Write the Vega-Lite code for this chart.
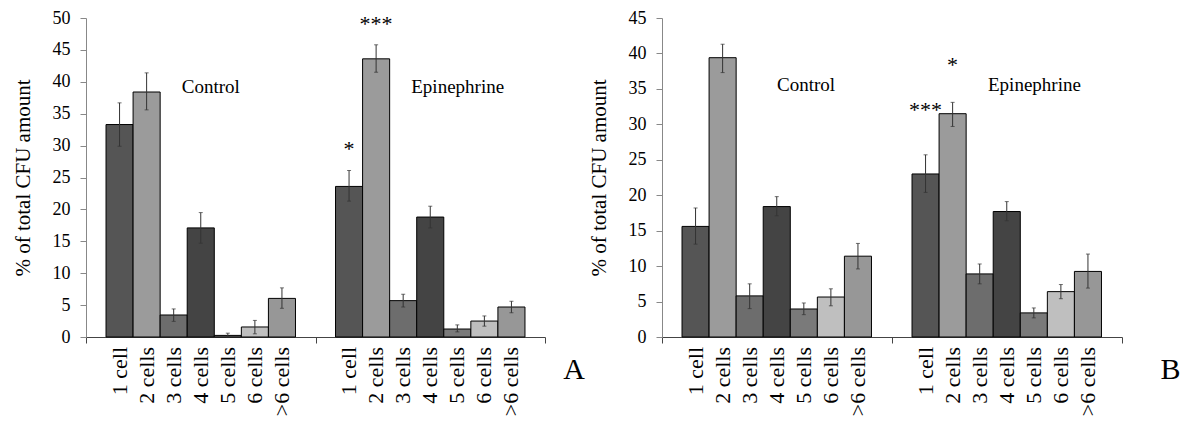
{
  "$schema": "https://vega.github.io/schema/vega-lite/v6.json",
  "padding": {"left": 12, "top": 9, "right": 0, "bottom": 0},
  "spacing": 3,
  "config": {
    "view": {"stroke": null},
    "font": "Liberation Serif",
    "axis": {"labelFont": "Liberation Serif", "titleFont": "Liberation Serif", "labelColor": "#000", "titleColor": "#000", "grid": false, "titleFontWeight": "normal", "labelOverlap": false},
    "axisY": {"tickSize": 6, "labelPadding": 10, "titlePadding": 19, "domainColor": "#888", "tickColor": "#888", "labelFontSize": 18, "titleFontSize": 21},
    "title": {"font": "Liberation Serif", "fontWeight": "normal", "color": "#000"}
  },
  "datasets": {
    "A": [
      {"group": "Control", "cell": "1 cell", "value": 33.3, "lo": 29.9, "hi": 36.7, "sig": ""},
      {"group": "Control", "cell": "2 cells", "value": 38.4, "lo": 35.6, "hi": 41.4, "sig": ""},
      {"group": "Control", "cell": "3 cells", "value": 3.45, "lo": 2.45, "hi": 4.4, "sig": ""},
      {"group": "Control", "cell": "4 cells", "value": 17.1, "lo": 14.7, "hi": 19.5, "sig": ""},
      {"group": "Control", "cell": "5 cells", "value": 0.25, "lo": 0.0, "hi": 0.6, "sig": ""},
      {"group": "Control", "cell": "6 cells", "value": 1.57, "lo": 0.5, "hi": 2.6, "sig": ""},
      {"group": "Control", "cell": ">6 cells", "value": 6.05, "lo": 4.5, "hi": 7.7, "sig": ""},
      {"group": "Epinephrine", "cell": "1 cell", "value": 23.6, "lo": 21.3, "hi": 26.1, "sig": "*"},
      {"group": "Epinephrine", "cell": "2 cells", "value": 43.6, "lo": 41.5, "hi": 45.8, "sig": "***"},
      {"group": "Epinephrine", "cell": "3 cells", "value": 5.7, "lo": 4.7, "hi": 6.7, "sig": ""},
      {"group": "Epinephrine", "cell": "4 cells", "value": 18.8, "lo": 17.1, "hi": 20.5, "sig": ""},
      {"group": "Epinephrine", "cell": "5 cells", "value": 1.25, "lo": 0.8, "hi": 1.9, "sig": ""},
      {"group": "Epinephrine", "cell": "6 cells", "value": 2.5, "lo": 1.7, "hi": 3.3, "sig": ""},
      {"group": "Epinephrine", "cell": ">6 cells", "value": 4.7, "lo": 3.8, "hi": 5.6, "sig": ""}
    ],
    "B": [
      {"group": "Control", "cell": "1 cell", "value": 15.6, "lo": 13.1, "hi": 18.2, "sig": ""},
      {"group": "Control", "cell": "2 cells", "value": 39.4, "lo": 37.3, "hi": 41.3, "sig": ""},
      {"group": "Control", "cell": "3 cells", "value": 5.8, "lo": 4.0, "hi": 7.5, "sig": ""},
      {"group": "Control", "cell": "4 cells", "value": 18.4, "lo": 17.1, "hi": 19.8, "sig": ""},
      {"group": "Control", "cell": "5 cells", "value": 3.95, "lo": 3.15, "hi": 4.8, "sig": ""},
      {"group": "Control", "cell": "6 cells", "value": 5.64, "lo": 4.4, "hi": 6.8, "sig": ""},
      {"group": "Control", "cell": ">6 cells", "value": 11.4, "lo": 9.6, "hi": 13.2, "sig": ""},
      {"group": "Epinephrine", "cell": "1 cell", "value": 23.0, "lo": 20.4, "hi": 25.7, "sig": "***"},
      {"group": "Epinephrine", "cell": "2 cells", "value": 31.5, "lo": 29.7, "hi": 33.1, "sig": "*"},
      {"group": "Epinephrine", "cell": "3 cells", "value": 8.9, "lo": 7.5, "hi": 10.3, "sig": ""},
      {"group": "Epinephrine", "cell": "4 cells", "value": 17.7, "lo": 16.4, "hi": 19.1, "sig": ""},
      {"group": "Epinephrine", "cell": "5 cells", "value": 3.4, "lo": 2.7, "hi": 4.1, "sig": ""},
      {"group": "Epinephrine", "cell": "6 cells", "value": 6.4, "lo": 5.4, "hi": 7.4, "sig": ""},
      {"group": "Epinephrine", "cell": ">6 cells", "value": 9.25, "lo": 6.9, "hi": 11.7, "sig": ""}
    ]
  },
  "hconcat": [
    {
      "width": 459,
      "height": 319,
      "data": {"name": "A"},
      "title": {"text": "A", "orient": "right", "angle": 0, "anchor": "end", "frame": "group", "fontSize": 30, "align": "left", "baseline": "middle", "offset": -4, "dy": 33},
      "encoding": {
        "x": {"field": "group", "type": "nominal", "scale": {"domain": ["Control", "Epinephrine"], "paddingInner": 0, "paddingOuter": 0},
          "axis": {"labels": false, "title": null, "ticks": true, "tickBand": "extent", "tickSize": 6, "domainColor": "#444", "tickColor": "#444"}},
        "xOffset": {"field": "cell", "type": "nominal", "scale": {"domain": ["1 cell", "2 cells", "3 cells", "4 cells", "5 cells", "6 cells", ">6 cells"], "paddingInner": 0, "paddingOuter": 0.74}}
      },
      "layer": [
        {
          "mark": {"type": "bar", "stroke": "#000", "strokeWidth": 1},
          "encoding": {
            "y": {"field": "value", "type": "quantitative", "scale": {"domain": [0, 50], "nice": false},
              "axis": {"values": [0, 5, 10, 15, 20, 25, 30, 35, 40, 45, 50], "title": "% of total CFU amount"}},
            "color": {"field": "cell", "type": "nominal", "scale": {"domain": ["1 cell", "2 cells", "3 cells", "4 cells", "5 cells", "6 cells", ">6 cells"], "range": ["#555555", "#9b9b9b", "#6d6d6d", "#444444", "#7a7a7a", "#bfbfbf", "#979797"]}, "legend": null}
          }
        },
        {"mark": {"type": "rule", "color": "#333", "strokeWidth": 1}, "encoding": {"y": {"field": "lo", "type": "quantitative", "axis": {"values": [0, 5, 10, 15, 20, 25, 30, 35, 40, 45, 50], "title": "% of total CFU amount"}}, "y2": {"field": "hi"}}},
        {"mark": {"type": "tick", "color": "#333", "size": 4, "thickness": 1}, "encoding": {"y": {"field": "hi", "type": "quantitative", "axis": {"values": [0, 5, 10, 15, 20, 25, 30, 35, 40, 45, 50], "title": "% of total CFU amount"}}}},
        {"mark": {"type": "tick", "color": "#333", "size": 4, "thickness": 1}, "encoding": {"y": {"field": "lo", "type": "quantitative", "axis": {"values": [0, 5, 10, 15, 20, 25, 30, 35, 40, 45, 50], "title": "% of total CFU amount"}}}},
        {"mark": {"type": "text", "angle": 270, "align": "right", "baseline": "middle", "dx": -10, "fontSize": 22, "font": "Liberation Serif", "color": "#000"},
          "encoding": {"y": {"datum": 0, "axis": {"values": [0, 5, 10, 15, 20, 25, 30, 35, 40, 45, 50], "title": "% of total CFU amount"}}, "text": {"field": "cell"}}},
        {"transform": [{"filter": "datum.sig != ''"}],
          "mark": {"type": "text", "align": "center", "baseline": "alphabetic", "dy": -14, "fontSize": 22, "font": "Liberation Serif", "color": "#000"},
          "encoding": {"y": {"field": "hi", "type": "quantitative", "axis": {"values": [0, 5, 10, 15, 20, 25, 30, 35, 40, 45, 50], "title": "% of total CFU amount"}}, "text": {"field": "sig"}}},
        {"data": {"values": [{"group": "Control"}, {"group": "Epinephrine"}]},
          "mark": {"type": "text", "align": "left", "baseline": "middle", "dx": -19, "fontSize": 19, "font": "Liberation Serif", "color": "#000"},
          "encoding": {"x": {"field": "group", "type": "nominal"}, "xOffset": null, "y": {"datum": 39.2, "axis": {"values": [0, 5, 10, 15, 20, 25, 30, 35, 40, 45, 50], "title": "% of total CFU amount"}}, "text": {"field": "group"}}}
      ]
    },
    {
      "width": 460,
      "height": 319,
      "data": {"name": "B"},
      "title": {"text": "B", "orient": "right", "angle": 0, "anchor": "end", "frame": "group", "fontSize": 30, "align": "left", "baseline": "middle", "offset": 18, "dy": 33},
      "encoding": {
        "x": {"field": "group", "type": "nominal", "scale": {"domain": ["Control", "Epinephrine"], "paddingInner": 0, "paddingOuter": 0},
          "axis": {"labels": false, "title": null, "ticks": true, "tickBand": "extent", "tickSize": 6, "domainColor": "#444", "tickColor": "#444"}},
        "xOffset": {"field": "cell", "type": "nominal", "scale": {"domain": ["1 cell", "2 cells", "3 cells", "4 cells", "5 cells", "6 cells", ">6 cells"], "paddingInner": 0, "paddingOuter": 0.76}}
      },
      "layer": [
        {
          "mark": {"type": "bar", "stroke": "#000", "strokeWidth": 1},
          "encoding": {
            "y": {"field": "value", "type": "quantitative", "scale": {"domain": [0, 45], "nice": false},
              "axis": {"values": [0, 5, 10, 15, 20, 25, 30, 35, 40, 45], "title": "% of total CFU amount"}},
            "color": {"field": "cell", "type": "nominal", "scale": {"domain": ["1 cell", "2 cells", "3 cells", "4 cells", "5 cells", "6 cells", ">6 cells"], "range": ["#555555", "#9b9b9b", "#6d6d6d", "#444444", "#7a7a7a", "#bfbfbf", "#979797"]}, "legend": null}
          }
        },
        {"mark": {"type": "rule", "color": "#333", "strokeWidth": 1}, "encoding": {"y": {"field": "lo", "type": "quantitative", "axis": {"values": [0, 5, 10, 15, 20, 25, 30, 35, 40, 45], "title": "% of total CFU amount"}}, "y2": {"field": "hi"}}},
        {"mark": {"type": "tick", "color": "#333", "size": 4, "thickness": 1}, "encoding": {"y": {"field": "hi", "type": "quantitative", "axis": {"values": [0, 5, 10, 15, 20, 25, 30, 35, 40, 45], "title": "% of total CFU amount"}}}},
        {"mark": {"type": "tick", "color": "#333", "size": 4, "thickness": 1}, "encoding": {"y": {"field": "lo", "type": "quantitative", "axis": {"values": [0, 5, 10, 15, 20, 25, 30, 35, 40, 45], "title": "% of total CFU amount"}}}},
        {"mark": {"type": "text", "angle": 270, "align": "right", "baseline": "middle", "dx": -10, "fontSize": 22, "font": "Liberation Serif", "color": "#000"},
          "encoding": {"y": {"datum": 0, "axis": {"values": [0, 5, 10, 15, 20, 25, 30, 35, 40, 45], "title": "% of total CFU amount"}}, "text": {"field": "cell"}}},
        {"transform": [{"filter": "datum.sig == '***'"}],
          "mark": {"type": "text", "align": "center", "baseline": "alphabetic", "dy": -38, "fontSize": 22, "font": "Liberation Serif", "color": "#000"},
          "encoding": {"y": {"field": "hi", "type": "quantitative", "axis": {"values": [0, 5, 10, 15, 20, 25, 30, 35, 40, 45], "title": "% of total CFU amount"}}, "text": {"field": "sig"}}},
        {"transform": [{"filter": "datum.sig == '*'"}],
          "mark": {"type": "text", "align": "center", "baseline": "alphabetic", "dy": -30, "fontSize": 22, "font": "Liberation Serif", "color": "#000"},
          "encoding": {"y": {"field": "hi", "type": "quantitative", "axis": {"values": [0, 5, 10, 15, 20, 25, 30, 35, 40, 45], "title": "% of total CFU amount"}}, "text": {"field": "sig"}}},
        {"data": {"values": [{"group": "Control"}]},
          "mark": {"type": "text", "align": "left", "baseline": "middle", "dx": 0, "fontSize": 19, "font": "Liberation Serif", "color": "#000"},
          "encoding": {"x": {"field": "group", "type": "nominal"}, "xOffset": null, "y": {"datum": 35.6, "axis": {"values": [0, 5, 10, 15, 20, 25, 30, 35, 40, 45], "title": "% of total CFU amount"}}, "text": {"field": "group"}}},
        {"data": {"values": [{"group": "Epinephrine"}]},
          "mark": {"type": "text", "align": "left", "baseline": "middle", "dx": -19, "fontSize": 19, "font": "Liberation Serif", "color": "#000"},
          "encoding": {"x": {"field": "group", "type": "nominal"}, "xOffset": null, "y": {"datum": 35.6, "axis": {"values": [0, 5, 10, 15, 20, 25, 30, 35, 40, 45], "title": "% of total CFU amount"}}, "text": {"field": "group"}}}
      ]
    }
  ]
}
